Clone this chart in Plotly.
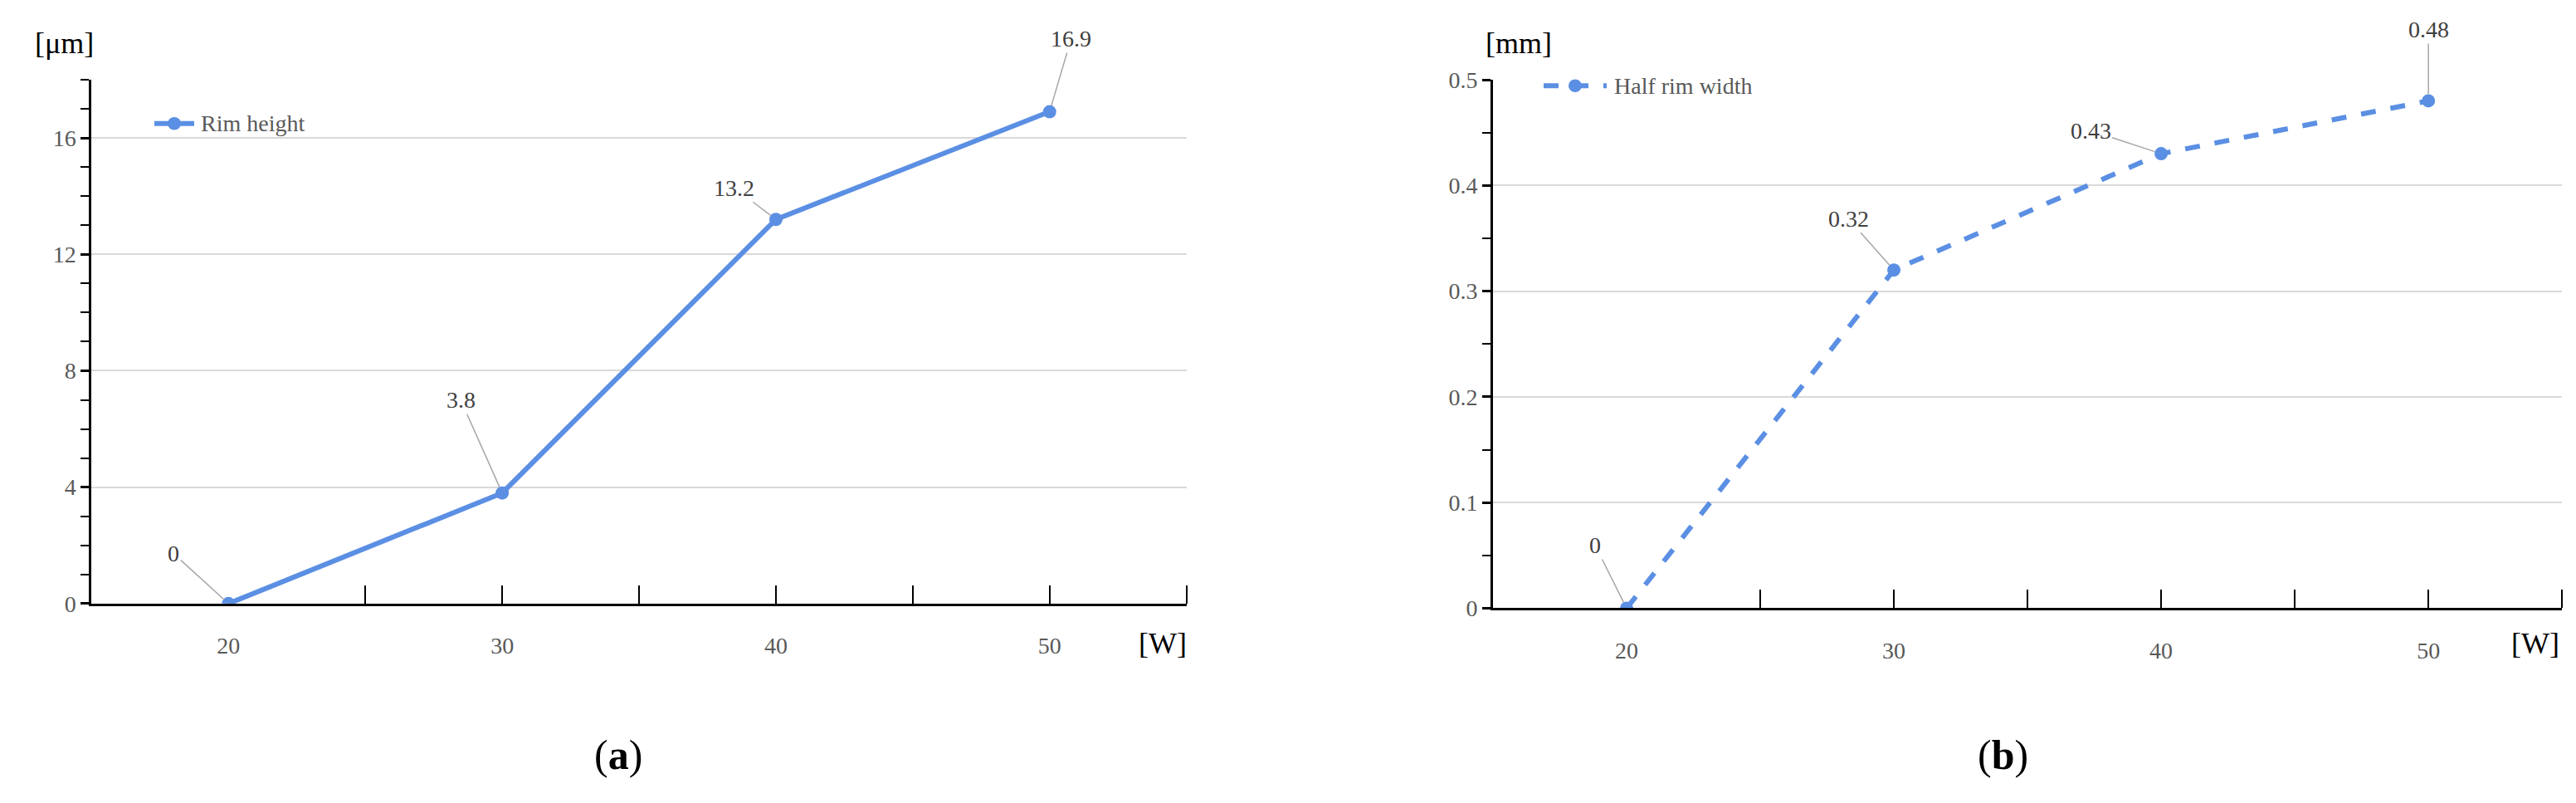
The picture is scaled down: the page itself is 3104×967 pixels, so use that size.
import plotly.graph_objects as go

power = [20, 30, 40, 50]
rim_height = [0, 3.8, 13.2, 16.9]
half_rim_width = [0, 0.32, 0.43, 0.48]
rim_labels = ["0", "3.8", "13.2", "16.9"]
width_labels = ["0", "0.32", "0.43", "0.48"]
rim_offsets = [(-66, -60), (-50, -112), (-50, -38), (26, -88)]
width_offsets = [(-38, -76), (-55, -62), (-85, -28), (0, -86)]

COL = "#5B8FE3"
FONT = "Liberation Serif"
fig = go.Figure()
fig.add_trace(go.Scatter(x=power, y=rim_height, mode="lines+markers", name="Rim height",
                         line=dict(color=COL, width=6), marker=dict(size=16, color=COL),
                         xaxis="x", yaxis="y", showlegend=False))
fig.add_trace(go.Scatter(x=power, y=half_rim_width, mode="lines+markers", name="Half rim width",
                         line=dict(color=COL, width=6, dash="dash"), marker=dict(size=16, color=COL),
                         xaxis="x2", yaxis="y2", showlegend=False))

xcommon = dict(range=[15, 55], tickvals=[20, 30, 40, 50], ticktext=["20", "30", "40", "50"],
               showgrid=False, zeroline=False, showline=True, linecolor="black", linewidth=3,
               ticks="", tickfont=dict(family=FONT, size=28, color="#595959"), ticklabelstandoff=24,
               minor=dict(tickvals=[25, 30, 35, 40, 45, 50, 55], ticks="inside", ticklen=22,
                          tickcolor="black", tickwidth=2, showgrid=False), fixedrange=True)
ycommon = dict(showgrid=True, gridcolor="#D9D9D9", gridwidth=2, zeroline=False, showline=True,
               linecolor="black", linewidth=3, ticks="outside", ticklen=10, tickwidth=3, tickcolor="black",
               tickfont=dict(family=FONT, size=28, color="#595959"))

fig.update_layout(
    width=3104, height=967, margin=dict(l=0, r=0, t=0, b=0),
    paper_bgcolor="white", plot_bgcolor="white",
    xaxis=dict(domain=[0.033, 0.458], anchor="y", **xcommon),
    yaxis=dict(domain=[0.248, 0.922], anchor="x", range=[0, 18], dtick=4,
               minor=dict(dtick=1, ticks="outside", ticklen=10, tickcolor="black", tickwidth=2, showgrid=False),
               **ycommon),
    xaxis2=dict(domain=[0.577, 0.992], anchor="y2", **xcommon),
    yaxis2=dict(domain=[0.242, 0.922], anchor="x2", range=[0, 0.5], dtick=0.1,
                minor=dict(dtick=0.05, ticks="outside", ticklen=10, tickcolor="black", tickwidth=2, showgrid=False),
                **ycommon),
)

ann = []
for xv, yv, t, (dx, dy) in zip(power, rim_height, rim_labels, rim_offsets):
    ann.append(dict(x=xv, y=yv, xref="x", yref="y", text=t, ax=dx, ay=dy, showarrow=True,
                    arrowhead=0, arrowwidth=1.5, arrowcolor="#A6A6A6", standoff=8,
                    font=dict(family=FONT, size=28, color="#404040")))
for xv, yv, t, (dx, dy) in zip(power, half_rim_width, width_labels, width_offsets):
    ann.append(dict(x=xv, y=yv, xref="x2", yref="y2", text=t, ax=dx, ay=dy, showarrow=True,
                    arrowhead=0, arrowwidth=1.5, arrowcolor="#A6A6A6", standoff=8,
                    font=dict(family=FONT, size=28, color="#404040")))

def txt(x, y, t, size, color="black", xanchor="center"):
    ann.append(dict(x=x, y=y, xref="paper", yref="paper", text=t, showarrow=False,
                    xanchor=xanchor, yanchor="middle", font=dict(family=FONT, size=size, color=color)))

txt(69 / 3104, 1 - 30 / 967, "[μm]", 36)
txt(1822 / 3104, 1 - 30 / 967, "[mm]", 36)
txt(1393 / 3104, 1 - 777 / 967, "[W]", 36)
txt(3047 / 3104, 1 - 777 / 967, "[W]", 36)
txt(737 / 3104, 1 - 915 / 967, "(<b>a</b>)", 50)
txt(2405 / 3104, 1 - 915 / 967, "(<b>b</b>)", 50)
txt(232 / 3104, 1 - 130 / 967, "Rim height", 28, "#595959", "left")
txt(1935 / 3104, 1 - 83 / 967, "Half rim width", 28, "#595959", "left")
fig.update_layout(annotations=ann)

# legend keys
fig.add_shape(type="line", xref="paper", yref="paper", x0=178 / 3104, x1=226 / 3104,
              y0=1 - 130 / 967, y1=1 - 130 / 967, line=dict(color=COL, width=6))
fig.add_shape(type="circle", xref="paper", yref="paper", x0=194 / 3104, x1=210 / 3104,
              y0=1 - 138 / 967, y1=1 - 122 / 967, fillcolor=COL, line=dict(color=COL, width=0))
fig.add_shape(type="line", xref="paper", yref="paper", x0=1852 / 3104, x1=1928 / 3104,
              y0=1 - 83 / 967, y1=1 - 83 / 967, line=dict(color=COL, width=6, dash="dash"))
fig.add_shape(type="circle", xref="paper", yref="paper", x0=1882 / 3104, x1=1898 / 3104,
              y0=1 - 91 / 967, y1=1 - 75 / 967, fillcolor=COL, line=dict(color=COL, width=0))

fig.write_html("out.html")
